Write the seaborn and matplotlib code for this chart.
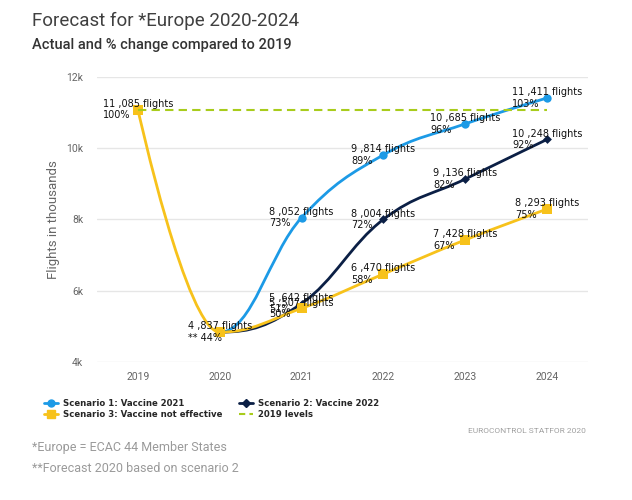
import numpy as np
import pandas as pd
import matplotlib
matplotlib.use("Agg")
import matplotlib.pyplot as plt
import seaborn as sns
from matplotlib.path import Path
from matplotlib.patches import PathPatch
from matplotlib.lines import Line2D
from matplotlib.ticker import FuncFormatter
from matplotlib.font_manager import FontProperties

# ---------------- data ----------------
years = ["2019", "2020", "2021", "2022", "2023", "2024"]
scenario1 = [11085, 4837, 8052, 9814, 10685, 11411]
scenario2 = [11085, 4837, 5642, 8004, 9136, 10248]
scenario3 = [11085, 4837, 5507, 6470, 7428, 8293]
pct1 = [100, 44, 73, 89, 96, 103]
pct2 = [100, 44, 51, 72, 82, 92]
pct3 = [100, 44, 50, 58, 67, 75]
level_2019 = 11085
yticks = [4000, 6000, 8000, 10000, 12000]

names = ["Scenario 1: Vaccine 2021", "Scenario 2: Vaccine 2022",
         "Scenario 3: Vaccine not effective", "2019 levels"]
colors = {"s1": "#1C9AE6", "s2": "#0B1F45", "s3": "#F7C21B", "lvl": "#A8CC1C"}

# ---------------- style ----------------
sns.set_style("white")
plt.rcParams["font.family"] = ["Roboto", "DejaVu Sans"]

fig = plt.figure(figsize=(6.32, 5), dpi=100)
ax = fig.add_axes([97 / 632, 1 - 362 / 500, 491 / 632, 285 / 500])

xi = np.arange(len(years))


def spline_path(xs, ys, start=0):
    """Highcharts-like spline smoothing as bezier path (segments from `start`)."""
    n = len(xs)
    ctrl = []
    for i in range(n):
        px, py = xs[i], ys[i]
        if i == 0 or i == n - 1:
            ctrl.append((px, py, px, py))
            continue
        lx, ly = xs[i - 1], ys[i - 1]
        nx, ny = xs[i + 1], ys[i + 1]
        s, d = 1.5, 2.5
        lcx, lcy = (s * px + lx) / d, (s * py + ly) / d
        rcx, rcy = (s * px + nx) / d, (s * py + ny) / d
        if rcx != lcx:
            corr = ((rcy - lcy) * (rcx - px)) / (rcx - lcx) + py - rcy
            lcy += corr
            rcy += corr
        if lcy > max(ly, py):
            lcy = max(ly, py); rcy = 2 * py - lcy
        elif lcy < min(ly, py):
            lcy = min(ly, py); rcy = 2 * py - lcy
        if rcy > max(ny, py):
            rcy = max(ny, py); lcy = 2 * py - rcy
        elif rcy < min(ny, py):
            rcy = min(ny, py); lcy = 2 * py - rcy
        ctrl.append((lcx, lcy, rcx, rcy))
    verts = [(xs[start], ys[start])]
    codes = [Path.MOVETO]
    for i in range(start + 1, n):
        verts += [(ctrl[i - 1][2], ctrl[i - 1][3]), (ctrl[i][0], ctrl[i][1]), (xs[i], ys[i])]
        codes += [Path.CURVE4] * 3
    return Path(verts, codes)


series = [
    ("s1", scenario1, pct1, "o", 6, 2, 1),
    ("s2", scenario2, pct2, "D", 4.5, 3, 1),
    ("s3", scenario3, pct3, "s", 6.5, 4, 0),
]

# dashed 2019 level line
sns.lineplot(x=xi, y=[level_2019] * len(xi), ax=ax, color=colors["lvl"],
             linestyle=(0, (4, 2.5)), linewidth=1.5, zorder=5)

for key, vals, pct, mk, ms, z, st in series:
    patch = PathPatch(spline_path(list(xi), vals, start=st), facecolor="none",
                      edgecolor=colors[key], linewidth=2, zorder=z,
                      capstyle="round", joinstyle="round")
    ax.add_patch(patch)
    mstart = 0 if key == "s3" else 2
    sns.scatterplot(x=xi[mstart:], y=vals[mstart:], ax=ax, marker=mk, s=ms ** 2,
                    color=colors[key], edgecolor=colors[key], linewidth=0,
                    zorder=z + 0.5, legend=False)


def fmt(v):
    return f"{v // 1000} ,{v % 1000:03d} flights"


label_kw = dict(ha="center", va="center", multialignment="left",
                fontsize=7, family="DejaVu Sans", color="#111111", zorder=10)
for key, vals, pct, mk, ms, z, st in series:
    start = 0 if key == "s3" else 2
    for i in range(start, len(vals)):
        if i == 1:
            txt = f"{fmt(vals[i])}\n** {pct[i]}%"
        else:
            txt = f"{fmt(vals[i])}\n{pct[i]}%"
        ax.annotate(txt, (xi[i], vals[i]), **label_kw)

# ---------------- axes ----------------
ax.set_xlim(-0.5, len(years) - 0.5)
ax.set_ylim(yticks[0], yticks[-1])
ax.set_xticks(xi)
ax.set_xticklabels(years)
ax.set_yticks(yticks)
ax.yaxis.set_major_formatter(FuncFormatter(lambda v, p: f"{int(v / 1000)}k"))
ax.grid(axis="y", color="#e6e6e6", linewidth=1)
ax.grid(axis="x", visible=False)
for sp in ax.spines.values():
    sp.set_visible(False)
ax.tick_params(axis="both", length=0, labelsize=7.5, labelcolor="#666666")
ax.tick_params(axis="y", pad=10)
ax.tick_params(axis="x", pad=7)
ax.set_xlabel("")
ax.set_ylabel("")

fig.text(53 / 632, 1 - 220 / 500, "Flights in thousands", rotation=90,
         ha="center", va="center", fontsize=9.5, color="#666666")

# titles
fig.text(32 / 632, 1 - 21 / 500, "Forecast for *Europe 2020-2024",
         ha="left", va="center", fontsize=13.5, color="#404040", fontweight="normal")
fig.text(32 / 632, 1 - 45 / 500, "Actual and % change compared to 2019",
         ha="left", va="center", fontsize=10.5, color="#333333", fontweight="medium")

# legend
handles = [
    Line2D([], [], color=colors["s1"], marker="o", markersize=5, lw=2),
    Line2D([], [], color=colors["s3"], marker="s", markersize=6, lw=2),
    Line2D([], [], color=colors["s2"], marker="D", markersize=4, lw=2),
    Line2D([], [], color=colors["lvl"], lw=1.5, linestyle=(0, (3, 2))),
]
labels = [names[0], names[2], names[1], names[3]]
legend_font = FontProperties(family="DejaVu Sans", weight="bold", size=6.8,
                             stretch="condensed")
fig.legend(handles, labels, loc="upper left", bbox_to_anchor=(44 / 632, 1 - 399 / 500),
           ncol=2, frameon=False, handlelength=1.5, handletextpad=0.5,
           columnspacing=1.8, labelspacing=0.2, borderaxespad=0, borderpad=0,
           prop=legend_font)

# footer
fig.text(586 / 632, 1 - 431 / 500, "EUROCONTROL STATFOR 2020", ha="right",
         va="center", fontsize=6, color="#a0a0a0")
fig.text(32 / 632, 1 - 447 / 500, "*Europe = ECAC 44 Member States", ha="left",
         va="center", fontsize=9, color="#9a9a9a")
fig.text(32 / 632, 1 - 468 / 500, "**Forecast 2020 based on scenario 2", ha="left",
         va="center", fontsize=9, color="#9a9a9a")

fig.savefig("out.png", dpi=100)
